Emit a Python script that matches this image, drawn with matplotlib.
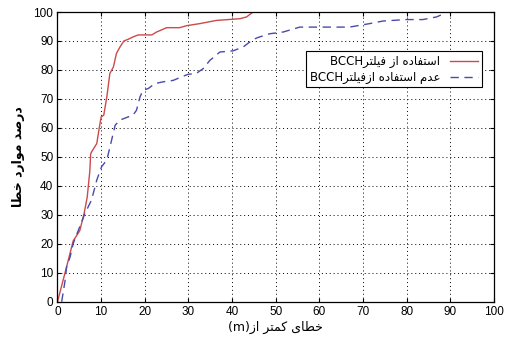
import matplotlib
matplotlib.use("Agg")
import matplotlib.pyplot as plt

# error distance (m) vs. cumulative percentage of cases
x_with_filter = [0, 1.7, 3.6, 5.1, 6.1, 6.8, 7.4, 7.6, 7.8, 9.0, 9.6, 10.0, 10.6, 11.3,
                 12.0, 12.8, 13.5, 14.3, 15.2, 16.2, 17.3, 18.5, 21.6, 22.7, 25.0, 28.0,
                 29.6, 32.6, 36.4, 41.8, 43.3, 44.8]
y_with_filter = [0, 9.8, 21.0, 24.5, 30.5, 36.0, 45.0, 51.0, 51.7, 54.6, 60.3, 63.8, 64.4,
                 70.7, 78.8, 81.0, 85.7, 87.9, 90.0, 90.6, 91.4, 92.1, 92.1, 93.1, 94.6,
                 94.6, 95.3, 96.0, 97.1, 97.7, 98.3, 100]

x_without_filter = [0.96, 1.7, 2.1, 2.9, 3.6, 5.1, 6.3, 7.8, 9.0, 10.1, 11.3, 12.4, 13.2,
                    14.3, 16.2, 17.3, 18.1, 18.9, 19.6, 20.8, 22.3, 24.2, 26.5, 28.4, 29.9,
                    31.8, 33.4, 34.9, 37.2, 40.2, 42.5, 44.8, 45.9, 48.6, 51.7, 55.5, 59.3,
                    66.9, 71.5, 74.6, 79.9, 83.7, 86.8, 88.7, 89.1]
y_without_filter = [0, 6.9, 12.1, 15.5, 20.1, 25.9, 30.5, 35.1, 42.0, 46.6, 48.9, 55.8, 60.9,
                    62.7, 63.8, 64.4, 66.1, 70.7, 73.0, 73.6, 75.3, 75.9, 76.4, 77.6, 78.5,
                    78.8, 80.5, 83.3, 86.2, 86.6, 87.9, 90.5, 91.2, 92.5, 93.1, 94.8, 94.8,
                    94.8, 96.0, 96.9, 97.4, 97.4, 98.3, 99.5, 100]

label_with = "استفاده از فیلترBCCH"
label_without = "عدم استفاده ازفیلترBCCH"
x_title = "خطای کمتر از(m)"
y_title = "درصد موارد خطا"

# presentation forms: (isolated, final, initial, medial); None = does not join forward
FORMS = {
    "ا": ("\uFE8D", "\uFE8E", None, None),
    "ت": ("\uFE95", "\uFE96", "\uFE97", "\uFE98"),
    "خ": ("\uFEA5", "\uFEA6", "\uFEA7", "\uFEA8"),
    "د": ("\uFEA9", "\uFEAA", None, None),
    "ر": ("\uFEAD", "\uFEAE", None, None),
    "ز": ("\uFEAF", "\uFEB0", None, None),
    "س": ("\uFEB1", "\uFEB2", "\uFEB3", "\uFEB4"),
    "ص": ("\uFEB9", "\uFEBA", "\uFEBB", "\uFEBC"),
    "ط": ("\uFEC1", "\uFEC2", "\uFEC3", "\uFEC4"),
    "ع": ("\uFEC9", "\uFECA", "\uFECB", "\uFECC"),
    "ف": ("\uFED1", "\uFED2", "\uFED3", "\uFED4"),
    "ل": ("\uFEDD", "\uFEDE", "\uFEDF", "\uFEE0"),
    "م": ("\uFEE1", "\uFEE2", "\uFEE3", "\uFEE4"),
    "ه": ("\uFEE9", "\uFEEA", "\uFEEB", "\uFEEC"),
    "و": ("\uFEED", "\uFEEE", None, None),
    "ک": ("\uFB8E", "\uFB8F", "\uFB90", "\uFB91"),
    "ی": ("\uFBFC", "\uFBFD", "\uFBFE", "\uFBFF"),
}


def shape_word(s):
    out = []
    for i, ch in enumerate(s):
        if ch not in FORMS:
            out.append(ch)
            continue
        prev = s[i - 1] if i > 0 else ""
        nxt = s[i + 1] if i + 1 < len(s) else ""
        joins_prev = prev in FORMS and FORMS[prev][2] is not None
        joins_next = nxt in FORMS and FORMS[ch][2] is not None
        iso, fin, ini, med = FORMS[ch]
        if joins_prev and joins_next:
            out.append(med)
        elif joins_prev:
            out.append(fin)
        elif joins_next:
            out.append(ini)
        else:
            out.append(iso)
    return "".join(out)


def rtl(s):
    # split into persian and latin runs, lay them out right to left
    runs = []
    for ch in s:
        is_fa = ch in FORMS or ch == " "
        if runs and runs[-1][0] == is_fa:
            runs[-1][1] += ch
        else:
            runs.append([is_fa, ch])
    parts = []
    for is_fa, text in reversed(runs):
        parts.append(shape_word(text)[::-1] if is_fa else text)
    return "".join(parts)


plt.rcParams["font.family"] = ["Liberation Sans", "DejaVu Sans"]

fig = plt.figure(figsize=(5.07, 3.38), dpi=100)
ax = fig.add_axes([0.1134, 0.1074, 0.861, 0.857])

ax.plot(x_with_filter, y_with_filter, color="#cc4a4a", lw=1.0, label=rtl(label_with))
ax.plot(x_without_filter, y_without_filter, color="#4a4aaa", lw=1.0, ls=(0, (6, 4)),
        label=rtl(label_without))

ax.set_xlim(0, 100)
ax.set_ylim(0, 100)
ax.set_xticks(range(0, 101, 10))
ax.set_yticks(range(0, 101, 10))
ax.grid(True, color="black", ls=(0, (1, 3)), lw=0.7)
ax.tick_params(direction="in", top=True, right=True, labelsize=8.5, length=3, pad=3)
for sp in ax.spines.values():
    sp.set_linewidth(0.9)

ax.set_xlabel(rtl(x_title), family=["DejaVu Sans"], fontsize=9, labelpad=2)
ax.set_ylabel(rtl(y_title), family=["DejaVu Sans"], fontsize=9, fontweight="bold",
              labelpad=6)

leg = ax.legend(loc="upper right", bbox_to_anchor=(0.972, 0.865), markerfirst=False,
                fancybox=False, framealpha=1, edgecolor="black",
                borderaxespad=0, handlelength=2.4, borderpad=0.3, labelspacing=0.25,
                prop={"family": ["DejaVu Sans"], "size": 8.5})
leg.get_frame().set_linewidth(0.8)

fig.savefig("out.png", dpi=100)
